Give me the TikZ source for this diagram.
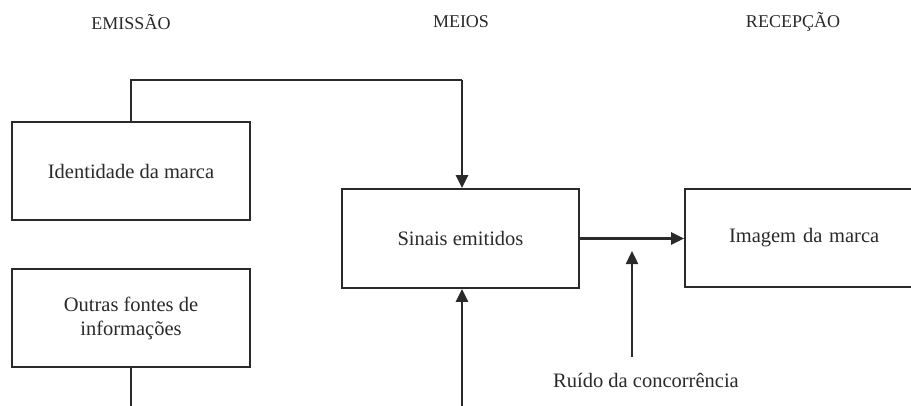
\documentclass[tikz,border=0pt]{standalone}
\usepackage{fontspec}
\setmainfont{Liberation Serif}
\usetikzlibrary{arrows.meta}
\definecolor{ink}{HTML}{2A2A2A}
\begin{document}
\begin{tikzpicture}[x=1pt,y=-1pt,
  box/.style={draw=ink,line width=1.7pt,rectangle,inner sep=0pt,text=ink,font=\fontsize{20.5}{24}\selectfont,align=center},
  conn/.style={draw=ink,line width=2.4pt},
  arr/.style={conn,-{Triangle[length=13pt,width=12pt]}},
  lbl/.style={text=ink,font=\fontsize{18}{20}\selectfont},
  note/.style={text=ink,font=\fontsize{20.5}{24}\selectfont}]
\useasboundingbox (0,0) rectangle (911,405);
\clip (0,0) rectangle (911,405);
\node[lbl] (t1) at (131,22) {EMISSÃO};
\node[lbl] (t2) at (461,22) {MEIOS};
\node[lbl] (t3) at (793,22) {RECEPÇÃO};
\node[box,minimum width=238pt,minimum height=98pt] (id) at (131,171) {Identidade da marca};
\node[box,minimum width=238pt,minimum height=98pt] (of) at (131,318) {Outras fontes de\\informações};
\node[box,minimum width=237pt,minimum height=99pt] (se) at (460.5,238.5) {Sinais emitidos};
\node[box,minimum width=230pt,minimum height=98pt,text width=210pt,align=left] (im) at (800,238) {\hspace*{34pt}Imagem da marca};
\node[note] (ru) at (646,380) {Ruído da concorrência};
\coordinate (c1) at (131,80);
\coordinate (c2) at (462,80);
\coordinate (b1) at (131,410);
\coordinate (b2) at (462,410);
\coordinate (r1) at (632,357);
\coordinate (r2) at (632,251);
\draw[conn] (id.north) |- (c2);
\draw[arr] (c2) -- (se.north -| c2);
\draw[conn] (of.south) -- (b1);
\draw[arr] (b2) -- (se.south -| b2);
\draw[arr] (se.east) -- (se.east -| im.west);
\draw[arr] (r1) -- (r2);
\end{tikzpicture}
\end{document}
